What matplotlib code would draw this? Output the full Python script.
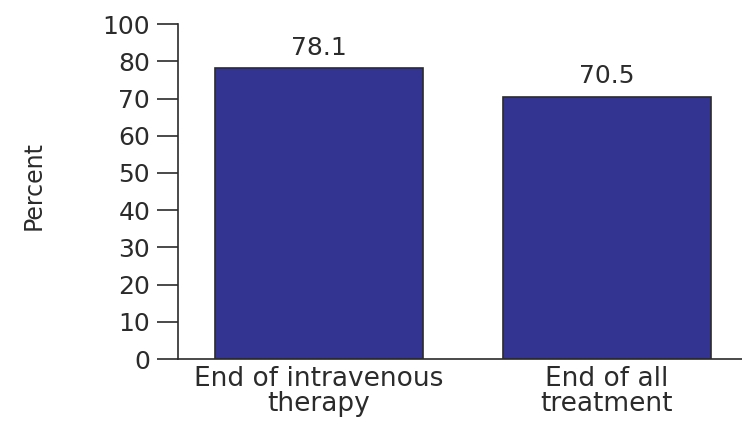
import numpy as np
import matplotlib
matplotlib.use("Agg")
import matplotlib.pyplot as plt

categories = ["End of intravenous\ntherapy", "End of all\ntreatment"]
values = [78.1, 70.5]
value_labels = ["78.1", "70.5"]
tick_pos = [0, 10, 20, 30, 40, 50, 60, 70, 80, 90]
tick_labels = ["0", "10", "20", "30", "40", "50", "60", "70", "80", "100"]

plt.rcParams['font.family'] = ['DejaVu Sans']
dark = '#2b2b2b'

fig = plt.figure(figsize=(7.42, 4.22), dpi=100)
ax = fig.add_axes([0.2399, 0.149, 0.7601, 0.794])

x = np.arange(len(categories))
ax.bar(x, values, width=0.72, color='#333391', edgecolor=dark, linewidth=1.2)

for xi, v, lab in zip(x, values, value_labels):
    ax.annotate(lab, (xi, v), xytext=(0, 6), textcoords='offset points',
                ha='center', va='bottom', fontsize=18, color=dark)

ax.set_xlim(-0.49, 1.469)
ax.set_ylim(0, 90)
ax.set_yticks(tick_pos)
ax.set_yticklabels(tick_labels, fontsize=18, color=dark)
ax.set_xticks(x)
ax.set_xticklabels(categories, fontsize=19, color=dark, linespacing=0.95)
ax.tick_params(axis='y', length=15, width=1.2, color=dark, pad=5)
ax.tick_params(axis='x', length=0, pad=5)

for s in ['top', 'right']:
    ax.spines[s].set_visible(False)
for s in ['left', 'bottom']:
    ax.spines[s].set_color(dark)
    ax.spines[s].set_linewidth(1.2)

fig.text(0.045, 0.56, 'Percent', rotation=90, ha='center', va='center',
         fontsize=17, color=dark)

plt.savefig("out.png", dpi=100)
